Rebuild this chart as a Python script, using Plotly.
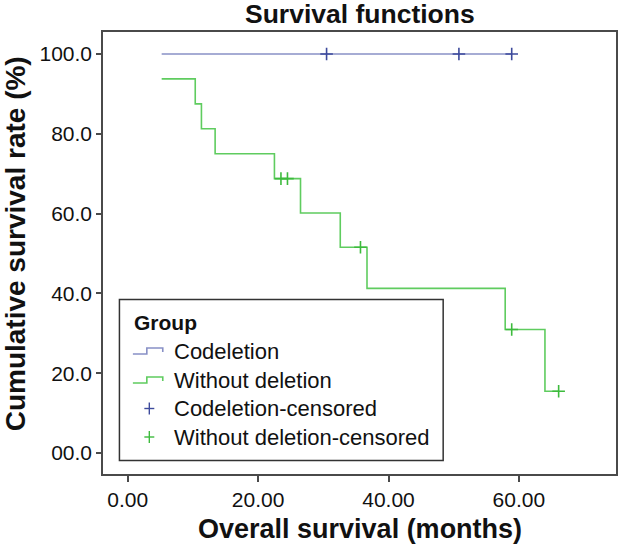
import plotly.graph_objects as go

# ---------------- data ----------------
start_time = 5.2
# Codeletion group: no events, survival stays 100 %
codel_end_time = 58.9
codel_level = 100.0
codel_cens_times = [30.5, 50.8, 58.9]

# Without deletion group: step times and survival after each step
wod_start_level = 93.75
wod_event_times = [10.35, 11.3, 13.4, 22.5, 26.5, 32.6, 36.7, 57.9, 64.0]
wod_levels = [87.5, 81.25, 75.0, 68.75, 60.16, 51.56, 41.25, 30.94, 15.47]
wod_end_time = 66.1
wod_cens_times = [23.5, 24.5, 35.7, 58.9, 66.1]
wod_cens_levels = [68.75, 68.75, 51.56, 30.94, 15.47]

x_tickvals = [0, 20, 40, 60]
x_ticktext = ["0.00", "20.00", "40.00", "60.00"]
y_tickvals = [0, 20, 40, 60, 80, 100]
y_ticktext = ["00.0", "20.0", "40.0", "60.0", "80.0", "100.0"]

legend_title = "Group"
legend_labels = ["Codeletion", "Without deletion", "Codeletion-censored", "Without deletion-censored"]

# ---------------- styling ----------------
FONT = "Liberation Sans, Arial, sans-serif"
BLUE_LINE = "#8890c6"
BLUE_MARK = "#3d4a9c"
GREEN_LINE = "#5fcc5f"
GREEN_MARK = "#3dbb3d"
FRAME = "#4a4a4a"

W, H = 620, 551
L, R, T, B = 103, 618, 32, 474  # plot area in pixels


def px(x):
    return (x - L) / (R - L)


def py(y):
    return (B - y) / (B - T)


fig = go.Figure()

# Codeletion survival line
fig.add_trace(go.Scatter(
    x=[start_time, codel_end_time], y=[codel_level, codel_level],
    mode="lines", line=dict(color=BLUE_LINE, width=1.6, shape="hv"),
    showlegend=False, hoverinfo="skip"))

# Without deletion step line
wx = [start_time] + wod_event_times + [wod_end_time]
wy = [wod_start_level] + wod_levels + [wod_levels[-1]]
fig.add_trace(go.Scatter(
    x=wx, y=wy, mode="lines",
    line=dict(color=GREEN_LINE, width=1.6, shape="hv"),
    showlegend=False, hoverinfo="skip"))

# censored marks
fig.add_trace(go.Scatter(
    x=codel_cens_times, y=[codel_level] * len(codel_cens_times), mode="markers",
    marker=dict(symbol="cross-thin", size=9, line=dict(color=BLUE_MARK, width=1.6)),
    showlegend=False, hoverinfo="skip"))
fig.add_trace(go.Scatter(
    x=wod_cens_times, y=wod_cens_levels, mode="markers",
    marker=dict(symbol="cross-thin", size=9, line=dict(color=GREEN_MARK, width=1.6)),
    showlegend=False, hoverinfo="skip"))

shapes = []
annotations = []

# ----- custom legend -----
shapes.append(dict(type="rect", xref="paper", yref="paper",
                   x0=px(119.5), x1=px(444.5), y0=py(460.5), y1=py(299.5),
                   line=dict(color="#333333", width=1.5), fillcolor="white", layer="above"))
annotations.append(dict(text="<b>" + legend_title + "</b>", xref="paper", yref="paper",
                        x=px(132), y=py(322), xanchor="left", yanchor="middle",
                        showarrow=False, font=dict(family=FONT, size=21, color="#111111")))
row_y = [351, 380, 408.5, 437]
for lab, yy in zip(legend_labels, row_y):
    annotations.append(dict(text=lab, xref="paper", yref="paper",
                            x=px(172), y=py(yy), xanchor="left", yanchor="middle",
                            showarrow=False, font=dict(family=FONT, size=22, color="#111111")))
# step icons
for yy, col in [(row_y[0], BLUE_LINE), (row_y[1], GREEN_LINE)]:
    lo, hi = yy + 3, yy - 3
    path = (f"M {px(133)},{py(lo)} L {px(147)},{py(lo)} L {px(147)},{py(hi)} "
            f"L {px(163)},{py(hi)} L {px(163)},{py(hi + 4)}")
    shapes.append(dict(type="path", xref="paper", yref="paper", path=path,
                       line=dict(color=col, width=1.6), layer="above"))
# cross icons
for yy, col in [(row_y[2], BLUE_MARK), (row_y[3], GREEN_MARK)]:
    cx = 149.5
    shapes.append(dict(type="line", xref="paper", yref="paper",
                       x0=px(cx - 5), x1=px(cx + 5), y0=py(yy), y1=py(yy),
                       line=dict(color=col, width=1.4), layer="above"))
    shapes.append(dict(type="line", xref="paper", yref="paper",
                       x0=px(cx), x1=px(cx), y0=py(yy - 6), y1=py(yy + 6),
                       line=dict(color=col, width=1.4), layer="above"))

# ----- titles -----
annotations.append(dict(text="<b>Survival functions</b>", xref="paper", yref="paper",
                        x=px(361), y=py(14.5), xanchor="center", yanchor="middle",
                        showarrow=False, font=dict(family=FONT, size=26.5, color="#111111")))
annotations.append(dict(text="<b>Overall survival (months)</b>", xref="paper", yref="paper",
                        x=px(361.5), y=py(529), xanchor="center", yanchor="middle",
                        showarrow=False, font=dict(family=FONT, size=27, color="#111111")))
annotations.append(dict(text="<b>Cumulative survival rate (%)</b>", xref="paper", yref="paper",
                        x=px(16), y=py(244), xanchor="center", yanchor="middle", textangle=-90,
                        showarrow=False, font=dict(family=FONT, size=28, color="#111111")))

fig.update_layout(
    width=W, height=H,
    margin=dict(l=L, r=W - R, t=T, b=H - B, pad=0),
    paper_bgcolor="white", plot_bgcolor="white",
    showlegend=False,
    shapes=shapes, annotations=annotations,
)
fig.update_xaxes(
    range=[-3.8, 74.9], tickvals=x_tickvals, ticktext=x_ticktext,
    ticks="outside", ticklen=6, tickwidth=1.5, tickcolor=FRAME,
    showline=True, linecolor=FRAME, linewidth=1.5, mirror=True,
    showgrid=False, zeroline=False,
    tickfont=dict(family=FONT, size=21, color="#111111"),
)
fig.update_yaxes(
    range=[-5.25, 105.5], tickvals=y_tickvals, ticktext=y_ticktext,
    ticks="outside", ticklen=5, tickwidth=1.5, tickcolor=FRAME,
    showline=True, linecolor=FRAME, linewidth=1.5, mirror=True,
    showgrid=False, zeroline=False,
    tickfont=dict(family=FONT, size=21, color="#111111"),
)

fig.write_html(
    "out.html",
    config={"displayModeBar": False},
    post_script="document.body.style.margin='0px';document.body.style.overflow='hidden';",
)
